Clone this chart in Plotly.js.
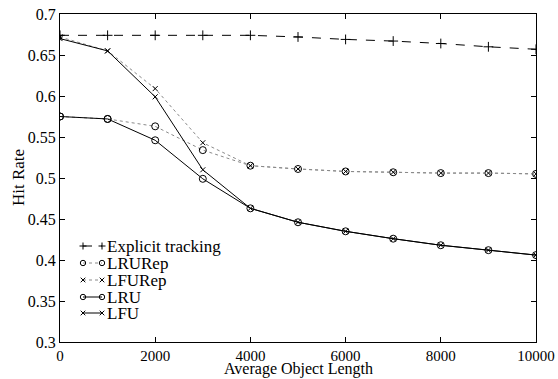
<!DOCTYPE html>
<html>
<head>
<meta charset="utf-8">
<script src="https://cdn.plot.ly/plotly-3.0.1.min.js"></script>
<style>html,body{margin:0;padding:0;background:#fff;}#chart{width:558px;height:379px;}</style>
</head>
<body>
<div id="chart"></div>
<script>
const objectLength = [0, 1000, 2000, 3000, 4000, 5000, 6000, 7000, 8000, 9000, 10000];
const explicitTracking = [0.674, 0.674, 0.674, 0.674, 0.674, 0.672, 0.669, 0.667, 0.664, 0.660, 0.657];
const lruRep = [0.575, 0.572, 0.563, 0.534, 0.515, 0.511, 0.508, 0.507, 0.506, 0.506, 0.505];
const lfuRep = [0.672, 0.655, 0.609, 0.543, 0.515, 0.511, 0.508, 0.507, 0.506, 0.506, 0.505];
const lru = [0.575, 0.572, 0.546, 0.499, 0.463, 0.446, 0.435, 0.426, 0.418, 0.412, 0.406];
const lfu = [0.670, 0.655, 0.599, 0.510, 0.463, 0.446, 0.435, 0.426, 0.418, 0.412, 0.406];
const seriesNames = ['Explicit tracking', 'LRURep', 'LFURep', 'LRU', 'LFU'];
const xTicks = [0, 2000, 4000, 6000, 8000, 10000];
const yTicks = [0.3, 0.35, 0.4, 0.45, 0.5, 0.55, 0.6, 0.65, 0.7];
const xTitle = 'Average Object Length';
const yTitle = 'Hit Rate';

const font = "'Liberation Serif', 'Times New Roman', serif";
const W = 558, H = 379, M = {l: 60, r: 22, t: 14, b: 37};
const PW = W - M.l - M.r, PH = H - M.t - M.b;

const styles = [
  {dash: 'dash', color: '#000', symbol: 'cross-thin-open', size: 7, glyph: 'plus'},
  {dash: 'dot', color: '#8a8a8a', symbol: 'circle-open', size: 7, glyph: 'circle'},
  {dash: 'dot', color: '#8a8a8a', symbol: 'x-thin-open', size: 5, glyph: 'x'},
  {dash: 'solid', color: '#000', symbol: 'circle-open', size: 7, glyph: 'circle'},
  {dash: 'solid', color: '#000', symbol: 'x-thin-open', size: 5, glyph: 'x'}
];
const seriesY = [explicitTracking, lruRep, lfuRep, lru, lfu];

const traces = seriesY.map((y, i) => ({
  x: objectLength, y: y, name: seriesNames[i], type: 'scatter', mode: 'lines+markers',
  showlegend: false,
  line: {color: styles[i].color, width: 1, dash: styles[i].dash},
  marker: {symbol: styles[i].symbol, size: styles[i].size, color: '#000', line: {color: '#000', width: 1}}
}));

// Custom legend (drawn in paper coordinates, like the original figure's legend)
const px2x = p => (p - M.l) / PW;
const py2y = p => (M.t + PH - p) / PH;
const shapes = [], annotations = [];
const rowY = [246, 263, 280, 297, 313];
const lx0 = 83, lx1 = 102, tx = 106;
function glyph(kind, cx, cy) {
  const base = {xref: 'paper', yref: 'paper', xsizemode: 'pixel', ysizemode: 'pixel',
                xanchor: px2x(cx), yanchor: py2y(cy), line: {color: '#000', width: 1}};
  if (kind === 'circle') {
    shapes.push(Object.assign({type: 'circle', x0: -2.7, x1: 2.7, y0: -2.7, y1: 2.7}, base));
  } else if (kind === 'x') {
    shapes.push(Object.assign({type: 'line', x0: -2.3, x1: 2.3, y0: -2.3, y1: 2.3}, base));
    shapes.push(Object.assign({type: 'line', x0: -2.3, x1: 2.3, y0: 2.3, y1: -2.3}, base));
  } else {
    shapes.push(Object.assign({type: 'line', x0: -3.5, x1: 3.5, y0: 0, y1: 0}, base));
    shapes.push(Object.assign({type: 'line', x0: 0, x1: 0, y0: -3.5, y1: 3.5}, base));
  }
}
seriesNames.forEach((name, i) => {
  const cy = rowY[i];
  shapes.push({type: 'line', xref: 'paper', yref: 'paper', x0: px2x(lx0), x1: px2x(lx1),
               y0: py2y(cy), y1: py2y(cy), line: {color: styles[i].color, width: 1, dash: styles[i].dash}});
  glyph(styles[i].glyph, lx0, cy);
  glyph(styles[i].glyph, lx1, cy);
  annotations.push({xref: 'paper', yref: 'paper', x: px2x(tx), y: py2y(cy), xanchor: 'left', yanchor: 'middle',
                    borderpad: 0,
                    text: name, showarrow: false, font: {family: font, size: 17, color: '#000'}});
});
// Axis titles
annotations.push({xref: 'paper', yref: 'paper', x: 0.5, y: py2y(379), xanchor: 'center', yanchor: 'bottom',
                  borderpad: 0, text: xTitle, showarrow: false, font: {family: font, size: 16, color: '#000'}});
annotations.push({xref: 'paper', yref: 'paper', x: px2x(18), y: 0.5, xanchor: 'center', yanchor: 'middle',
                  textangle: -90, borderpad: 0, text: yTitle, showarrow: false,
                  font: {family: font, size: 17, color: '#000'}});

const layout = {
  width: W, height: H,
  margin: M,
  paper_bgcolor: '#fff', plot_bgcolor: '#fff',
  font: {family: font, size: 17, color: '#000'},
  showlegend: false,
  shapes: shapes, annotations: annotations,
  xaxis: {
    range: [0, 10000], tickvals: xTicks, ticktext: xTicks.map(String),
    ticks: 'inside', ticklen: 5, tickcolor: '#000', mirror: 'ticks',
    showline: true, linecolor: '#000', linewidth: 1, showgrid: false, zeroline: false,
    tickfont: {family: font, size: 15}
  },
  yaxis: {
    range: [0.3, 0.7], tickvals: yTicks, ticktext: yTicks.map(v => String(v)),
    ticks: 'inside', ticklen: 5, tickcolor: '#000', mirror: 'ticks',
    showline: true, linecolor: '#000', linewidth: 1, showgrid: false, zeroline: false,
    tickfont: {family: font, size: 16}
  }
};
Plotly.newPlot('chart', traces, layout, {staticPlot: true, displayModeBar: false});
</script>
</body>
</html>
